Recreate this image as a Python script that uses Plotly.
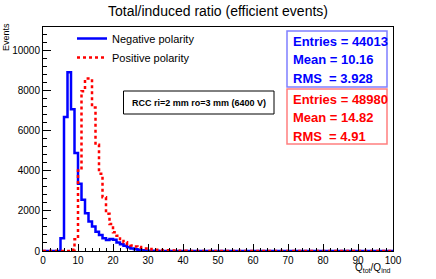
import plotly.graph_objects as go

# ---- data ----
bin_edges = list(range(0, 101))  # 100 bins of width 1 on [0, 100]

neg_counts = [0, 0, 0, 0, 0, 630, 6680, 8900, 7065, 4880,
              3350, 2550, 1880, 1465, 1215, 965, 800, 630, 550, 600,
              560, 420, 340, 260, 190, 130, 90, 60, 40, 25,
              15, 10, 8, 5, 3, 2, 1, 1, 0, 0] + [0] * 60

pos_counts = [0, 0, 0, 0, 0, 0, 0, 0, 60, 580,
              4015, 7960, 8590, 8590, 7150, 5290, 3850, 2680, 1850, 1350,
              930, 765, 600, 430, 350, 280, 230, 195, 160, 130,
              100, 80, 65, 50, 40, 32, 25, 20, 16, 12,
              10, 8, 6, 5, 4, 3, 2, 2, 1, 1] + [0] * 50

neg_stats = ["Entries = 44013", "Mean = 10.16", "RMS\u00a0\u00a0= 3.928"]
pos_stats = ["Entries = 48980", "Mean = 14.82", "RMS\u00a0\u00a0= 4.91"]

title = "Total/induced ratio (efficient events)"
label_text = "RCC ri=2 mm ro=3 mm (6400 V)"

BLUE = "#0000ff"
RED = "#ff0000"
FONT = "Liberation Sans, Arial, Helvetica, sans-serif"

# plot frame in pixels
W, H = 436, 279
L, R, T, B = 43, 43, 27, 28
PW, PH = W - L - R, H - T - B


def px(x):
    return (x - L) / PW


def py(y):
    return (H - B - y) / PH


fig = go.Figure()
fig.add_trace(go.Scatter(
    x=bin_edges, y=neg_counts + [neg_counts[-1]], mode="lines",
    line=dict(color=BLUE, width=2.5, shape="hv"),
    name="Negative polarity"))
fig.add_trace(go.Scatter(
    x=bin_edges, y=pos_counts + [pos_counts[-1]], mode="lines",
    line=dict(color=RED, width=2.5, shape="hv", dash="dot"),
    name="Positive polarity"))

annotations = []
shapes = []

# stats boxes
for lines, color, border, top, bottom in [
        (neg_stats, BLUE, "#7f7fff", 31, 87),
        (pos_stats, RED, "#ff7f7f", 89, 144)]:
    shapes.append(dict(type="rect", xref="paper", yref="paper",
                       x0=px(287), x1=px(387), y0=py(bottom), y1=py(top),
                       line=dict(color=border, width=1.5), fillcolor="white"))
    for i, t in enumerate(lines):
        annotations.append(dict(
            text="<b>%s</b>" % t, xref="paper", yref="paper",
            x=px(291), y=py(top + 10 + 18.5 * i), xanchor="left", yanchor="middle",
            showarrow=False, font=dict(family=FONT, size=13, color=color)))

# text box
shapes.append(dict(type="rect", xref="paper", yref="paper",
                   x0=px(123.5), x1=px(274), y0=py(114), y1=py(91),
                   line=dict(color="black", width=1), fillcolor="white"))
annotations.append(dict(text="<b>%s</b>" % label_text, xref="paper", yref="paper",
                        x=px(199), y=py(102.5), xanchor="center", yanchor="middle",
                        showarrow=False, font=dict(family=FONT, size=9, color="black")))

# axis titles
annotations.append(dict(text="Q<sub>tot</sub>/Q<sub>ind</sub>", xref="paper", yref="paper",
                        x=1.0, y=py(268), xanchor="right", yanchor="middle",
                        showarrow=False, font=dict(family=FONT, size=10, color="black")))
annotations.append(dict(text="Events", xref="paper", yref="paper",
                        x=px(6), y=py(37), xanchor="center", yanchor="middle", textangle=-90,
                        showarrow=False, font=dict(family=FONT, size=9, color="black")))

fig.update_layout(
    width=W, height=H,
    margin=dict(l=L, r=R, t=T, b=B, autoexpand=False),
    paper_bgcolor="white", plot_bgcolor="white",
    title=dict(text=title, x=0.5, xanchor="center", yref="container",
               y=1 - 11 / H, yanchor="middle",
               font=dict(family=FONT, size=14, color="black")),
    font=dict(family=FONT, size=10, color="black"),
    showlegend=True,
    legend=dict(x=px(72), y=py(24), xanchor="left", yanchor="top",
                bgcolor="rgba(0,0,0,0)", borderwidth=0,
                font=dict(family=FONT, size=11, color="black"),
                itemwidth=30, tracegroupgap=0),
    annotations=annotations,
    shapes=shapes,
)

fig.update_xaxes(range=[0, 100], dtick=10, tick0=0, ticks="inside", ticklen=7,
                 tickcolor="black", showline=True, linecolor="black", linewidth=1,
                 mirror=True, showgrid=False, zeroline=False, automargin=False,
                 tickfont=dict(family=FONT, size=10),
                 minor=dict(dtick=2, ticks="inside", ticklen=3.5, tickcolor="black"))
fig.update_yaxes(range=[0, 11160], dtick=2000, tick0=0, ticks="inside", ticklen=8,
                 tickcolor="black", showline=True, linecolor="black", linewidth=1,
                 mirror=True, showgrid=False, zeroline=False, automargin=False,
                 tickformat="d",
                 tickfont=dict(family=FONT, size=10),
                 minor=dict(dtick=400, ticks="inside", ticklen=4, tickcolor="black"))

fig.write_html("out.html", post_script="document.body.style.margin='0';",
               config={"displayModeBar": False})
